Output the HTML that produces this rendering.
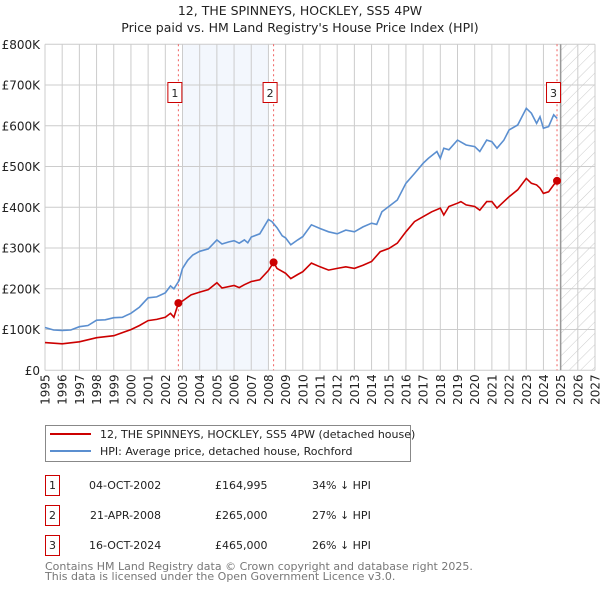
<!DOCTYPE html>
<html><head><meta charset="utf-8"><style>
body{margin:0;background:#fff;font-family:"DejaVu Sans","Liberation Sans",sans-serif;}
svg text{font-family:"DejaVu Sans","Liberation Sans",sans-serif;}
</style></head><body>
<svg id="chart" width="600" height="590" xmlns="http://www.w3.org/2000/svg">
<text x="300" y="15" text-anchor="middle" font-size="12.5" fill="#222">12, THE SPINNEYS, HOCKLEY, SS5 4PW</text>
<text x="300" y="32" text-anchor="middle" font-size="12.5" fill="#222">Price paid vs. HM Land Registry's House Price Index (HPI)</text>
<defs><pattern id="hatch" width="8" height="8" patternUnits="userSpaceOnUse" patternTransform="rotate(45)"><line x1="0" y1="0" x2="0" y2="8" stroke="#ccc" stroke-width="1"/></pattern></defs>
<g id="grid"></g>
<g id="marks"></g>
<g>
<rect x="45.5" y="425.5" width="365" height="36" fill="#fff" stroke="#888"/>
<line x1="50" y1="434" x2="91" y2="434" stroke="#cc0000" stroke-width="2"/>
<text x="100" y="438" font-size="11" fill="#222">12, THE SPINNEYS, HOCKLEY, SS5 4PW (detached house)</text>
<line x1="50" y1="451" x2="91" y2="451" stroke="#5b8fd0" stroke-width="2"/>
<text x="100" y="455" font-size="11" fill="#222">HPI: Average price, detached house, Rochford</text>
</g>
<g font-size="11" fill="#222">
<rect x="45.5" y="475.5" width="14" height="20" fill="#fff" stroke="#cc0000"/><text x="52.5" y="489" text-anchor="middle">1</text>
<text x="89" y="489">04-OCT-2002</text>
<text x="215" y="489">£164,995</text>
<text x="312" y="489">34% ↓ HPI</text>
<rect x="45.5" y="505.5" width="14" height="20" fill="#fff" stroke="#cc0000"/><text x="52.5" y="519" text-anchor="middle">2</text>
<text x="90" y="519">21-APR-2008</text>
<text x="215" y="519">£265,000</text>
<text x="312" y="519">27% ↓ HPI</text>
<rect x="45.5" y="535.5" width="14" height="20" fill="#fff" stroke="#cc0000"/><text x="52.5" y="549" text-anchor="middle">3</text>
<text x="89" y="549">16-OCT-2024</text>
<text x="215" y="549">£465,000</text>
<text x="312" y="549">26% ↓ HPI</text>
</g>
<text x="45" y="570" font-size="11" fill="#777">Contains HM Land Registry data © Crown copyright and database right 2025.</text>
<text x="45" y="580" font-size="11" fill="#777">This data is licensed under the Open Government Licence v3.0.</text>
</svg>
<script>
const yTicks=[0,100,200,300,400,500,600,700,800];
const yTickLabels=["£0","£100K","£200K","£300K","£400K","£500K","£600K","£700K","£800K"];
const xTicks=[1995,1996,1997,1998,1999,2000,2001,2002,2003,2004,2005,2006,2007,2008,2009,2010,2011,2012,2013,2014,2015,2016,2017,2018,2019,2020,2021,2022,2023,2024,2025,2026,2027];
const hpiYears=[1995,1995.5,1996,1996.5,1997,1997.5,1998,1998.5,1999,1999.5,2000,2000.5,2001,2001.5,2002,2002.3,2002.5,2002.8,2003,2003.3,2003.6,2004,2004.5,2005,2005.3,2005.7,2006,2006.3,2006.6,2006.8,2007,2007.5,2008,2008.2,2008.5,2008.8,2009,2009.3,2009.7,2010,2010.5,2011,2011.5,2012,2012.5,2013,2013.5,2014,2014.3,2014.6,2015,2015.5,2016,2016.5,2017,2017.3,2017.8,2018,2018.2,2018.5,2019,2019.5,2020,2020.3,2020.7,2021,2021.3,2021.7,2022,2022.5,2023,2023.3,2023.6,2023.8,2024,2024.3,2024.6,2024.8];
const hpiValues=[105,99,98,99,107,110,123,124,129,130,140,155,178,180,190,207,200,220,250,270,283,292,298,320,310,315,318,312,320,313,327,335,370,365,350,330,325,308,320,328,357,348,340,335,344,340,352,361,358,389,402,418,459,483,508,520,537,520,545,541,565,553,549,537,565,561,545,565,590,602,643,631,606,622,594,598,627,618];
const priceYears=[1995,1996,1997,1998,1999,2000,2000.5,2001,2001.5,2002,2002.3,2002.5,2002.76,2003,2003.5,2004,2004.5,2005,2005.3,2006,2006.3,2006.6,2007,2007.5,2008,2008.3,2008.5,2009,2009.3,2009.7,2010,2010.5,2011,2011.5,2012,2012.5,2013,2013.5,2014,2014.5,2015,2015.5,2016,2016.5,2017,2017.5,2018,2018.2,2018.5,2019,2019.2,2019.5,2020,2020.3,2020.7,2021,2021.3,2021.7,2022,2022.5,2023,2023.3,2023.6,2023.8,2024,2024.3,2024.6,2024.79];
const priceValues=[68,65,70,80,85,100,110,122,125,130,140,130,165,170,185,192,198,215,202,208,203,210,218,222,245,265,250,238,225,235,242,263,254,246,250,254,250,258,267,291,299,312,340,365,377,389,398,381,402,410,414,406,402,393,414,414,398,414,426,443,471,459,455,447,434,438,455,465];
const saleYears=[2002.76,2008.3,2024.79];
const saleValues=[164.995,265,465];
const saleLabels=["1","2","3"];
const X0=45,X1=595,Y0=370.3,Y1=44.3;
const xs=y=>X0+(y-1995)/(2027-1995)*(X1-X0);
const ys=v=>Y0-v/800*(Y0-Y1);
const NS="http://www.w3.org/2000/svg";
function mk(p,t,a){const e=document.createElementNS(NS,t);for(const k in a)e.setAttribute(k,a[k]);p.appendChild(e);return e;}
const g=document.getElementById('grid'),m=document.getElementById('marks');
let e=mk(g,'rect',{x:xs(2003),y:Y1,width:xs(2008)-xs(2003),height:Y0-Y1,fill:'#eef3fc',opacity:0.7});


e=mk(g,'rect',{x:xs(2025),y:Y1,width:X1-xs(2025),height:Y0-Y1,fill:'url(#hatch)'});


yTicks.forEach((v,i)=>{
 e=mk(g,'line',{x1:X0,x2:X1,y1:ys(v),y2:ys(v),stroke:'#ccc','stroke-width':1});
 
 
 e=mk(g,'text',{x:40,y:ys(v)+4.5,'text-anchor':'end','font-size':12,fill:'#222'});
 e.textContent=yTickLabels[i];
 
 
});
xTicks.forEach(t=>{
 e=mk(g,'line',{x1:xs(t),x2:xs(t),y1:Y1,y2:Y0,stroke:'#ccc','stroke-width':1});
 
 
 e=mk(g,'text',{x:0,y:0,'font-size':12,fill:'#222','text-anchor':'end',transform:`translate(${xs(t)+4.5},${Y0+4}) rotate(-90)`});
 e.textContent=t;
 
 
});
e=mk(g,'line',{x1:xs(2025),x2:xs(2025),y1:Y1,y2:Y0,stroke:'#999','stroke-width':1.5});


saleYears.forEach((y,i)=>{
 e=mk(m,'line',{x1:xs(y),x2:xs(y),y1:Y1,y2:Y0,stroke:'#f06060','stroke-width':1,'stroke-dasharray':'2,3'});
 
 
});
function path(xsA,vs){return xsA.map((y,i)=>(i?'L':'M')+xs(y).toFixed(1)+','+ys(vs[i]).toFixed(1)).join('');}
e=mk(m,'path',{d:path(hpiYears,hpiValues),fill:'none',stroke:'#5b8fd0','stroke-width':1.6});


e=mk(m,'path',{d:path(priceYears,priceValues),fill:'none',stroke:'#cc0000','stroke-width':1.6});


saleYears.forEach((y,i)=>{
 e=mk(m,'circle',{cx:xs(y),cy:ys(saleValues[i]),r:4,fill:'#cc0000'});
 
 
 e=mk(m,'rect',{x:xs(y)-10.5,y:82.5,width:14,height:20,fill:'#fff',stroke:'#cc0000'});
 
 
 e=mk(m,'text',{x:xs(y)-3.5,y:97,'text-anchor':'middle','font-size':11,fill:'#222'});
 e.textContent=saleLabels[i];
 
 
});
</script>
</body></html>
